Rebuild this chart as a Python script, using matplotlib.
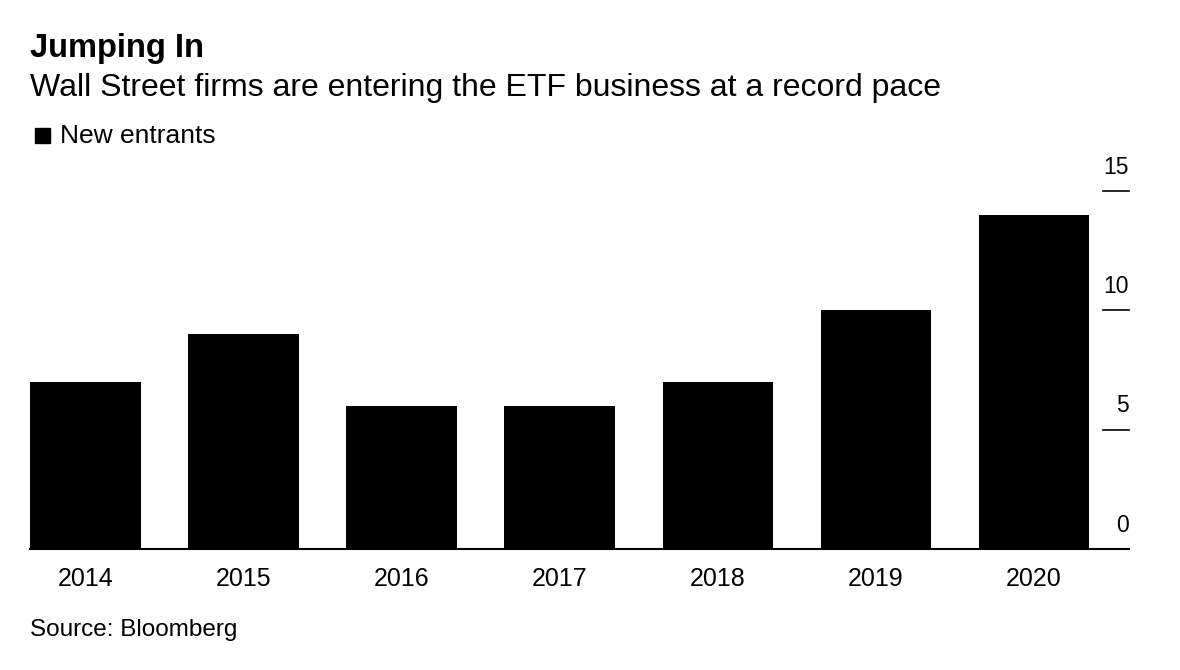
import matplotlib.pyplot as plt

plt.rcParams['font.family'] = ['Liberation Sans', 'DejaVu Sans']

years = ['2014', '2015', '2016', '2017', '2018', '2019', '2020']
entrants = [7, 9, 6, 6, 7, 10, 14]
yticks = [0, 5, 10, 15]

fig = plt.figure(figsize=(11.8, 6.7), dpi=100)
ax = fig.add_axes([30/1180, 1 - 549/670, (1129 - 30)/1180, (549 - 191)/670])

x = range(len(years))
ax.bar(x, entrants, width=0.7, color='black')
ax.set_xlim(-0.35, 6.6)
ax.set_ylim(0, 15)

for s in ['top', 'left', 'right']:
    ax.spines[s].set_visible(False)
ax.spines['bottom'].set_linewidth(1.5)

ax.set_xticks(list(x))
ax.set_xticklabels(years, fontsize=18)
ax.tick_params(axis='x', length=0, pad=13)

# y ticks drawn as short dashes on the right with labels above them
ax.set_yticks([])
for v in yticks:
    if v > 0:
        ax.plot([6.35 + 14/158, 6.6], [v, v], color='black', lw=1.2, clip_on=False)
    ax.annotate(str(v), xy=(1.0, v), xycoords=ax.get_yaxis_transform(),
                xytext=(0, 9), textcoords='offset points',
                ha='right', va='bottom', fontsize=16.5)

fig.text(30/1180, 1 - 48/670, 'Jumping In', fontsize=23.5, fontweight='bold',
         va='center', ha='left')
fig.text(30/1180, 1 - 88/670, 'Wall Street firms are entering the ETF business at a record pace',
         fontsize=23, va='center', ha='left')
fig.patches.append(plt.Rectangle((35/1180, 1 - 143/670), 15/1180, 15/670,
                                 color='black', transform=fig.transFigure))
fig.text(60/1180, 1 - 136/670, 'New entrants', fontsize=19, va='center', ha='left')
fig.text(30/1180, 1 - 630/670, 'Source: Bloomberg', fontsize=17.5, va='center', ha='left')

plt.savefig('out.png', dpi=100)
